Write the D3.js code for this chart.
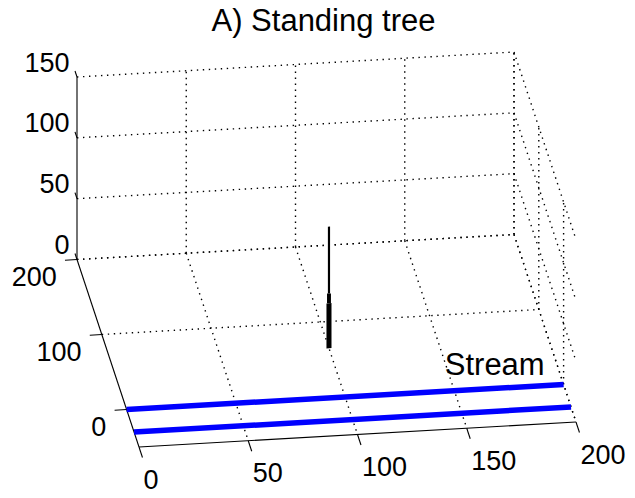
<!DOCTYPE html>
<html>
<head>
<meta charset="utf-8">
<script src="https://cdn.jsdelivr.net/npm/d3@7"></script>
<style>
  html, body { margin: 0; padding: 0; background: #fff; }
  svg { display: block; font-family: "Liberation Sans", Arial, Helvetica, sans-serif; }
</style>
</head>
<body>
<svg id="chart" width="635" height="498"></svg>
<script>
// ---- data ----
const titleText = "A) Standing tree";
const xLimits = [0, 200];
const yLimits = [-50, 200];
const zLimits = [0, 150];
const xTicks = [0, 50, 100, 150, 200];
const yTicks = [0, 100, 200];
const zTicks = [0, 50, 100, 150];
// the two banks of the stream (y position), running along the full x range
const streamBanks = [0, -30];
const streamRun = [0, 200];
// standing tree: base position and stem sections (height range, stem diameter)
const treeBase = { x: 100, y: 65 };
const treeSections = [
  { z0: 0,  z1: 37,  d: 2.3 },
  { z0: 37, z1: 45,  d: 1.8 },
  { z0: 45, z1: 100, d: 1.0 }
];
const streamLabel = { text: "Stream", x: 148, y: 21, z: 0 };

// ---- view: orthographic projection of the 3-D box ----
const svg = d3.select("#chart");
const origin = [77, 259.5];           // screen point of (x=0, y=200, z=0)
const xAxisVec = [437, -25];          // screen travel across the x range
const yAxisVec = [62, 187.5];         // screen travel from y=200 to y=-50
const zAxisVec = [0, -182.5];         // screen travel across the z range

const xs = d3.scaleLinear().domain(xLimits).range([0, 1]);
const ys = d3.scaleLinear().domain([yLimits[1], yLimits[0]]).range([0, 1]);
const zs = d3.scaleLinear().domain(zLimits).range([0, 1]);

function project(x, y, z) {
  const a = xs(x), b = ys(y), c = zs(z);
  return [
    origin[0] + a * xAxisVec[0] + b * yAxisVec[0] + c * zAxisVec[0],
    origin[1] + a * xAxisVec[1] + b * yAxisVec[1] + c * zAxisVec[1]
  ];
}
const seg = (p, q) => ({ p, q });

// ---- grid (dotted) on the back wall, right wall and floor ----
const [x0, x1] = xLimits, [y0, y1] = yLimits, [z0, z1] = zLimits;
const grid = [];
xTicks.filter(x => x !== x0).forEach(x => grid.push(seg([x, y1, z0], [x, y1, z1])));
zTicks.forEach(z => grid.push(seg([x0, y1, z], [x1, y1, z])));
yTicks.forEach(y => grid.push(seg([x1, y, z0], [x1, y, z1])));
zTicks.forEach(z => grid.push(seg([x1, y1, z], [x1, y0, z])));
xTicks.filter(x => x !== x0).forEach(x => grid.push(seg([x, y1, z0], [x, y0, z0])));
yTicks.forEach(y => grid.push(seg([x0, y, z0], [x1, y, z0])));

const line = d3.line();
svg.append("g").attr("class", "grid")
  .selectAll("path").data(grid).join("path")
  .attr("d", d => line([project(...d.p), project(...d.q)]))
  .attr("fill", "none")
  .attr("stroke", "#000")
  .attr("stroke-width", 1.4)
  .attr("stroke-dasharray", "1.4,4.6");

// ---- axis lines and ticks ----
const axes = [
  seg([x0, y1, z0], [x0, y1, z1]),   // z axis
  seg([x0, y1, z0], [x0, y0, z0]),   // y axis
  seg([x0, y0, z0], [x1, y0, z0])    // x axis
];
const ticks = [];
zTicks.forEach(z => ticks.push(seg([x0, y1, z], [x0, y1 + 8, z])));
yTicks.forEach(y => ticks.push(seg([x0, y, z0], [x0 - 5.5, y, z0])));
xTicks.forEach(x => ticks.push(seg([x, y0, z0], [x, y0 - 14, z0])));

svg.append("g").attr("class", "axes")
  .selectAll("path").data(axes.concat(ticks)).join("path")
  .attr("d", d => line([project(...d.p), project(...d.q)]))
  .attr("fill", "none")
  .attr("stroke", "#000")
  .attr("stroke-width", 1.1);

// ---- tick labels ----
const labels = svg.append("g").attr("class", "tick-labels")
  .attr("font-size", 27).attr("fill", "#000");
labels.selectAll("text.z").data(zTicks).join("text").attr("class", "z")
  .attr("x", d => project(x0, y1, d)[0] - 7.5)
  .attr("y", d => project(x0, y1, d)[1] - 5.5)
  .attr("text-anchor", "end")
  .text(d => d);
labels.selectAll("text.y").data(yTicks).join("text").attr("class", "y")
  .attr("x", d => project(x0, d, z0)[0] - 20.3)
  .attr("y", d => project(x0, d, z0)[1] + 26.5)
  .attr("text-anchor", "end")
  .text(d => d);
labels.selectAll("text.x").data(xTicks).join("text").attr("class", "x")
  .attr("x", d => project(d, y0, z0)[0] + 4.4)
  .attr("y", d => project(d, y0, z0)[1] + 41.5)
  .attr("text-anchor", "start")
  .text(d => d);

// ---- standing tree ----
svg.append("g").attr("class", "tree")
  .selectAll("path").data(treeSections).join("path")
  .attr("d", s => {
    const h = s.d / 2;
    return line([
      project(treeBase.x - h, treeBase.y, s.z0),
      project(treeBase.x + h, treeBase.y, s.z0),
      project(treeBase.x + h, treeBase.y, s.z1),
      project(treeBase.x - h, treeBase.y, s.z1)
    ]) + "Z";
  })
  .attr("fill", "#000")
  .attr("stroke", "none");

// ---- stream banks ----
svg.append("g").attr("class", "stream")
  .selectAll("path").data(streamBanks).join("path")
  .attr("d", y => line([project(streamRun[0], y, z0), project(streamRun[1], y, z0)]))
  .attr("fill", "none")
  .attr("stroke", "#0000ff")
  .attr("stroke-width", 5.5);

const sp = project(streamLabel.x, streamLabel.y, streamLabel.z);
svg.append("text")
  .attr("x", sp[0]).attr("y", sp[1])
  .attr("font-size", 31)
  .attr("fill", "#000")
  .text(streamLabel.text);

// ---- title ----
svg.append("text")
  .attr("x", 323.5).attr("y", 31)
  .attr("text-anchor", "middle")
  .attr("font-size", 31)
  .attr("fill", "#000")
  .text(titleText);
</script>
</body>
</html>
